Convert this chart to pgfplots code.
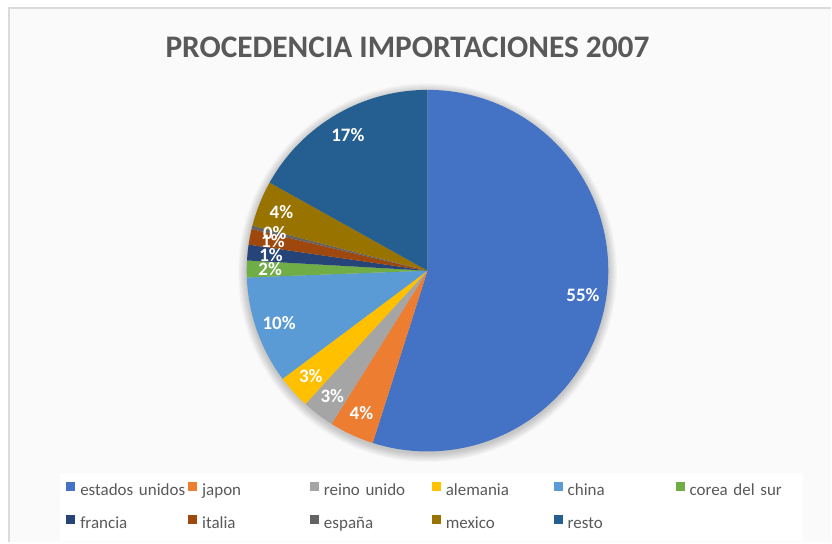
\documentclass[border=0pt]{standalone}
\usepackage{pgfplots}
\pgfplotsset{compat=1.18}
\usepackage{pgfplotstable}
\usepackage{fontspec}
\setmainfont{Carlito}

\definecolor{cEU}{HTML}{4472C4}
\definecolor{cJP}{HTML}{ED7D31}
\definecolor{cRU}{HTML}{A5A5A5}
\definecolor{cDE}{HTML}{FFC000}
\definecolor{cCN}{HTML}{5B9BD5}
\definecolor{cKR}{HTML}{70AD47}
\definecolor{cFR}{HTML}{264478}
\definecolor{cIT}{HTML}{9E480E}
\definecolor{cES}{HTML}{636363}
\definecolor{cMX}{HTML}{997300}
\definecolor{cRE}{HTML}{255E91}
\definecolor{txtgray}{HTML}{595959}

% share of imports, percent
\pgfplotstableread[col sep=comma]{
name,share,color
estados unidos,54.9,cEU
japon,4.0,cJP
reino unido,2.9,cRU
alemania,3.0,cDE
china,9.6,cCN
corea del sur,1.5,cKR
francia,1.4,cFR
italia,1.4,cIT
españa,0.3,cES
mexico,4.1,cMX
resto,16.9,cRE
}\shares

\begin{document}
\begin{tikzpicture}
\begin{axis}[
    x=0.5pt, y=0.5pt,
    xmin=0, xmax=832, ymin=0, ymax=543,
    disabledatascaling, hide axis, clip=false,
    legend columns=6,
    legend cell align=left,
    legend image code/.code={\fill[#1, draw=none] (0pt,0pt) rectangle (4.5pt,4.5pt);},
    legend style={
        at={(axis description cs:0.0721,0.1289)}, anchor=north west,
        fill=white, draw=none, inner xsep=3pt, inner ysep=4.5pt,
        font=\fontsize{8.5}{10}\selectfont, text=txtgray,
        nodes={inner sep=0pt, text height=6pt, text depth=1.5pt, text width=54pt, align=left},
        row sep=8.5pt, column sep=0pt,
        /tikz/every odd column/.style={column sep=2.5pt},
    },
]
% background and frame
\fill[white] (axis cs:0,0) rectangle (axis cs:832,543);
\fill[gray!4] (axis cs:10,0) rectangle (axis cs:832,534);
\draw[gray!28, line width=1pt] (axis cs:9.5,0) -- (axis cs:9.5,534.5) -- (axis cs:832,534.5);

\node[font=\bfseries\fontsize{15.7}{18}\selectfont, text=txtgray]
    at (axis cs:408,496) {PROCEDENCIA IMPORTACIONES 2007};

% soft shadow round the pie
\pgfplotsforeachungrouped \r in {90.8,91.3,91.8,92.3,92.8,93.3,93.8,94.3,94.8}{%
    \edef\temp{\noexpand\fill[black, opacity=0.025] (axis cs:428,270) circle[radius=\r pt];}\temp
}

% slices
\def\angA{0}
\pgfplotsforeachungrouped \i in {0,...,10}{%
    \pgfplotstablegetelem{\i}{share}\of\shares \let\myval\pgfplotsretval
    \pgfplotstablegetelem{\i}{color}\of\shares \let\mycol\pgfplotsretval
    \pgfplotstablegetelem{\i}{name}\of\shares \let\myname\pgfplotsretval
    \pgfmathsetmacro\angB{\angA+3.6*\myval}
    \pgfmathsetmacro\sA{90-\angA}
    \pgfmathsetmacro\sB{90-\angB}
    \edef\temp{%
        \noexpand\fill[\mycol] (axis cs:428,272) -- ++(\sA:90.5pt)
            arc[start angle=\sA, end angle=\sB, radius=90.5pt] -- cycle;
        \noexpand\addlegendimage{fill=\mycol}
        \noexpand\addlegendentry{\myname}
    }\temp
    \global\let\angA\angB
}

% data labels
\def\angA{0}
\pgfplotsforeachungrouped \i in {0,...,10}{%
    \pgfplotstablegetelem{\i}{share}\of\shares \let\myval\pgfplotsretval
    \pgfmathsetmacro\angB{\angA+3.6*\myval}
    \pgfmathsetmacro\mA{90-(\angA+\angB)/2}
    \pgfmathsetmacro\lx{428+157.5*cos(\mA)}
    \pgfmathsetmacro\ly{272+157.5*sin(\mA)}
    \pgfmathtruncatemacro\pct{round(\myval)}
    \edef\temp{%
        \noexpand\node[font=\noexpand\bfseries\noexpand\fontsize{9.5}{11}\noexpand\selectfont, text=white]
            at (axis cs:\lx,\ly) {\pct\noexpand\%};
    }\temp
    \global\let\angA\angB
}
\end{axis}
\end{tikzpicture}
\end{document}
